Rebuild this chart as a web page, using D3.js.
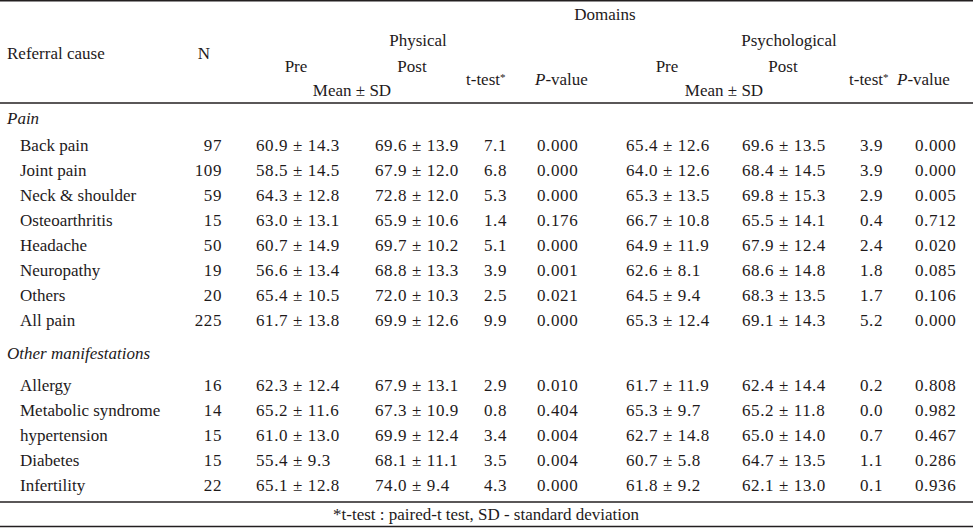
<!DOCTYPE html>
<html>
<head>
<meta charset="utf-8">
<script src="https://cdn.jsdelivr.net/npm/d3@7/dist/d3.min.js"></script>
<style>
  html, body { margin: 0; padding: 0; background: #fff; }
  svg { display: block; }
  text { font-family: "Liberation Serif", "DejaVu Serif", serif; font-size: 17px; fill: #1e1a1b; }
  text.num { letter-spacing: 0.6px; }
</style>
</head>
<body>
<svg id="chart" width="973" height="528"></svg>
<script>
// ---------- DATA ----------
const painCauses = ["Back pain", "Joint pain", "Neck & shoulder", "Osteoarthritis", "Headache", "Neuropathy", "Others", "All pain"];
const painN = [97, 109, 59, 15, 50, 19, 20, 225];
const painPhysPre = [[60.9, 14.3], [58.5, 14.5], [64.3, 12.8], [63.0, 13.1], [60.7, 14.9], [56.6, 13.4], [65.4, 10.5], [61.7, 13.8]];
const painPhysPost = [[69.6, 13.9], [67.9, 12.0], [72.8, 12.0], [65.9, 10.6], [69.7, 10.2], [68.8, 13.3], [72.0, 10.3], [69.9, 12.6]];
const painPhysT = [7.1, 6.8, 5.3, 1.4, 5.1, 3.9, 2.5, 9.9];
const painPhysP = [0.000, 0.000, 0.000, 0.176, 0.000, 0.001, 0.021, 0.000];
const painPsyPre = [[65.4, 12.6], [64.0, 12.6], [65.3, 13.5], [66.7, 10.8], [64.9, 11.9], [62.6, 8.1], [64.5, 9.4], [65.3, 12.4]];
const painPsyPost = [[69.6, 13.5], [68.4, 14.5], [69.8, 15.3], [65.5, 14.1], [67.9, 12.4], [68.6, 14.8], [68.3, 13.5], [69.1, 14.3]];
const painPsyT = [3.9, 3.9, 2.9, 0.4, 2.4, 1.8, 1.7, 5.2];
const painPsyP = [0.000, 0.000, 0.005, 0.712, 0.020, 0.085, 0.106, 0.000];

const otherCauses = ["Allergy", "Metabolic syndrome", "hypertension", "Diabetes", "Infertility"];
const otherN = [16, 14, 15, 15, 22];
const otherPhysPre = [[62.3, 12.4], [65.2, 11.6], [61.0, 13.0], [55.4, 9.3], [65.1, 12.8]];
const otherPhysPost = [[67.9, 13.1], [67.3, 10.9], [69.9, 12.4], [68.1, 11.1], [74.0, 9.4]];
const otherPhysT = [2.9, 0.8, 3.4, 3.5, 4.3];
const otherPhysP = [0.010, 0.404, 0.004, 0.004, 0.000];
const otherPsyPre = [[61.7, 11.9], [65.3, 9.7], [62.7, 14.8], [60.7, 5.8], [61.8, 9.2]];
const otherPsyPost = [[62.4, 14.4], [65.2, 11.8], [65.0, 14.0], [64.7, 13.5], [62.1, 13.0]];
const otherPsyT = [0.2, 0.0, 0.7, 1.1, 0.1];
const otherPsyP = [0.808, 0.982, 0.467, 0.286, 0.936];

const sectionTitles = ["Pain", "Other manifestations"];
const footnote = "*t-test : paired-t test, SD - standard deviation";

// ---------- LAYOUT ----------
const svg = d3.select("#chart");
const W = 973;
const ink = "#231f20";
const fmt1 = d3.format(".1f");
const fmt3 = d3.format(".3f");
const ms = d => fmt1(d[0]) + " \u00b1 " + fmt1(d[1]);

// column left positions
const col = { cause: 7, causeItem: 20, nRight: 222, phPre: 256, phPost: 375, phT: 484, phP: 537, psPre: 626, psPost: 742, psT: 860, psP: 915 };

// horizontal rules
const rules = [{ y: 0.75, w: 1.5 }, { y: 103, w: 1.5 }, { y: 502, w: 1.5 }, { y: 526.5, w: 1.5 }];
svg.selectAll("line.rule").data(rules).enter().append("line")
  .attr("x1", 0).attr("x2", W).attr("y1", d => d.y).attr("y2", d => d.y)
  .attr("stroke", ink).attr("stroke-width", d => d.w);

function txt(x, y, s, anchor, italic) {
  return svg.append("text").attr("x", x).attr("y", y).attr("dy", "0.35em")
    .attr("text-anchor", anchor || "start")
    .style("font-style", italic ? "italic" : null).text(s);
}
function ttest(x, y) {
  const t = svg.append("text").attr("x", x).attr("y", y).attr("dy", "0.35em");
  t.append("tspan").text("t-test");
  t.append("tspan").attr("dy", "-0.4em").style("font-size", "11px").text("*");
}
function pval(x, y) {
  const t = svg.append("text").attr("x", x).attr("y", y).attr("dy", "0.35em");
  t.append("tspan").style("font-style", "italic").text("P");
  t.append("tspan").text("-value");
}

// headers
txt(605, 14, "Domains", "middle");
txt(7, 53, "Referral cause");
txt(204, 53, "N", "middle");
txt(418, 40, "Physical", "middle");
txt(789, 40, "Psychological", "middle");
txt(296, 66, "Pre", "middle");
txt(412, 66, "Post", "middle");
txt(667, 66, "Pre", "middle");
txt(783, 66, "Post", "middle");
txt(352, 90, "Mean \u00b1 SD", "middle");
txt(724, 90, "Mean \u00b1 SD", "middle");
ttest(466, 79); pval(535, 79);
ttest(849, 79); pval(897, 79);

// body
function section(title, titleY, y0, causes, n, phPre, phPost, phT, phP, psPre, psPost, psT, psP) {
  txt(col.cause, titleY, title, "start", true);
  const y = d3.scalePoint().domain(causes).range([y0, y0 + 25 * (causes.length - 1)]);
  const rows = svg.append("g").selectAll("g").data(causes).enter().append("g")
    .attr("transform", d => `translate(0,${y(d)})`);
  const cell = (x, f, anchor, cls) => rows.append("text").attr("class", cls || null)
    .attr("x", x).attr("dy", "0.35em")
    .attr("text-anchor", anchor || "start").text(f);
  cell(col.causeItem, d => d);
  cell(col.nRight, (d, i) => n[i], "end", "num");
  cell(col.phPre, (d, i) => ms(phPre[i]), "start", "num");
  cell(col.phPost, (d, i) => ms(phPost[i]), "start", "num");
  cell(col.phT, (d, i) => fmt1(phT[i]), "start", "num");
  cell(col.phP, (d, i) => fmt3(phP[i]), "start", "num");
  cell(col.psPre, (d, i) => ms(psPre[i]), "start", "num");
  cell(col.psPost, (d, i) => ms(psPost[i]), "start", "num");
  cell(col.psT, (d, i) => fmt1(psT[i]), "start", "num");
  cell(col.psP, (d, i) => fmt3(psP[i]), "start", "num");
}
section(sectionTitles[0], 118, 145, painCauses, painN, painPhysPre, painPhysPost, painPhysT, painPhysP, painPsyPre, painPsyPost, painPsyT, painPsyP);
section(sectionTitles[1], 353, 385, otherCauses, otherN, otherPhysPre, otherPhysPost, otherPhysT, otherPhysP, otherPsyPre, otherPsyPost, otherPsyT, otherPsyP);

// footnote
txt(486, 514, footnote, "middle");
</script>
</body>
</html>
